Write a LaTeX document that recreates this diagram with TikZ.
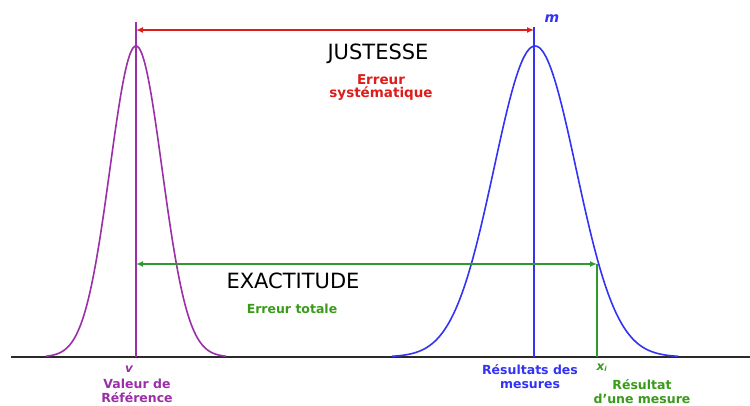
\documentclass[tikz,border=0pt]{standalone}
\usepackage{fontspec}
\setmainfont{DejaVu Sans}
\usetikzlibrary{arrows.meta}
\definecolor{cpurple}{HTML}{9A2FA8}
\definecolor{cblue}{HTML}{3333F5}
\definecolor{cred}{HTML}{DD1C1C}
\definecolor{cgreen}{HTML}{2E9A2E}
\definecolor{cgreentxt}{HTML}{3A9A1A}
\definecolor{cbase}{HTML}{2A2A2A}
\tikzset{
  curve/.style={line width=1.6pt},
  vline/.style={line width=1.5pt},
  dim/.style={line width=1.5pt,{Latex[length=7pt,width=6pt]}-{Latex[length=7pt,width=6pt]}},
  title/.style={font=\fontsize{21}{24}\selectfont, text=black, inner sep=0pt, anchor=base},
  small/.style={font=\bfseries\fontsize{12.5}{13.5}\selectfont, inner sep=0pt, anchor=base, align=center},
  sym/.style={font=\bfseries\itshape\fontsize{12}{14}\selectfont, inner sep=0pt, anchor=base}
}
\begin{document}
\begin{tikzpicture}[x=1pt,y=-1pt]
\useasboundingbox[fill=white] (0,0) rectangle (750,406);
% coordinates
\coordinate (bl) at (11,357);
\coordinate (br) at (750,357);
\coordinate (vtop) at (136,22);
\coordinate (vbot) at (136,357);
\coordinate (mtop) at (534,27);
\coordinate (mbot) at (534,357);
\coordinate (redL) at (136,30);
\coordinate (redR) at (534,30);
\coordinate (grL) at (136,264);
\coordinate (grR) at (597,264);
\coordinate (xbot) at (597,357);
% baseline
\draw[cbase, line width=1.4pt] (bl) -- (br);
% gaussians
\draw[cpurple, curve] plot[domain=-90:90, samples=121, smooth] ({136+\x},{357-311*exp(-0.5*(\x/26)^2)});
\draw[cblue, curve] plot[domain=-143:143, samples=141, smooth] ({535+\x},{357-311*exp(-0.5*(\x/41)^2)});
% verticals
\draw[cpurple, vline] (vtop) -- (vbot);
\draw[cblue, vline] (mtop) -- (mbot);
\draw[cgreen, vline] (grR) -- (xbot);
% arrows
\draw[cred, dim] (redL) -- (redR);
\draw[cgreen, dim] (grL) -- (grR);
% texts
\node[title] (just) at (378,60) {JUSTESSE};
\node[small, text=cred, font=\bfseries\fontsize{13.5}{13.5}\selectfont] (errsys) at (381,98) {Erreur\\systématique};
\node[title] (exact) at (293,288) {EXACTITUDE};
\node[small, text=cgreentxt] (errtot) at (292,313) {Erreur totale};
\node[sym, text=cblue, font=\bfseries\itshape\fontsize{14}{14}\selectfont] (m) at (552,23) {m};
\node[sym, text=cpurple] (v) at (129,372) {v};
\node[sym, text=cgreentxt] (xi) at (602,370) {x\textsubscript{\fontsize{7}{7}\selectfont i}};
\node[small, text=cpurple] (valref) at (137,402) {Valeur de\\Référence};
\node[small, text=cblue] (resmes) at (530,388) {Résultats des\\mesures};
\node[small, text=cgreentxt] (resune) at (642,403) {Résultat\\d’une mesure};
\end{tikzpicture}
\end{document}
